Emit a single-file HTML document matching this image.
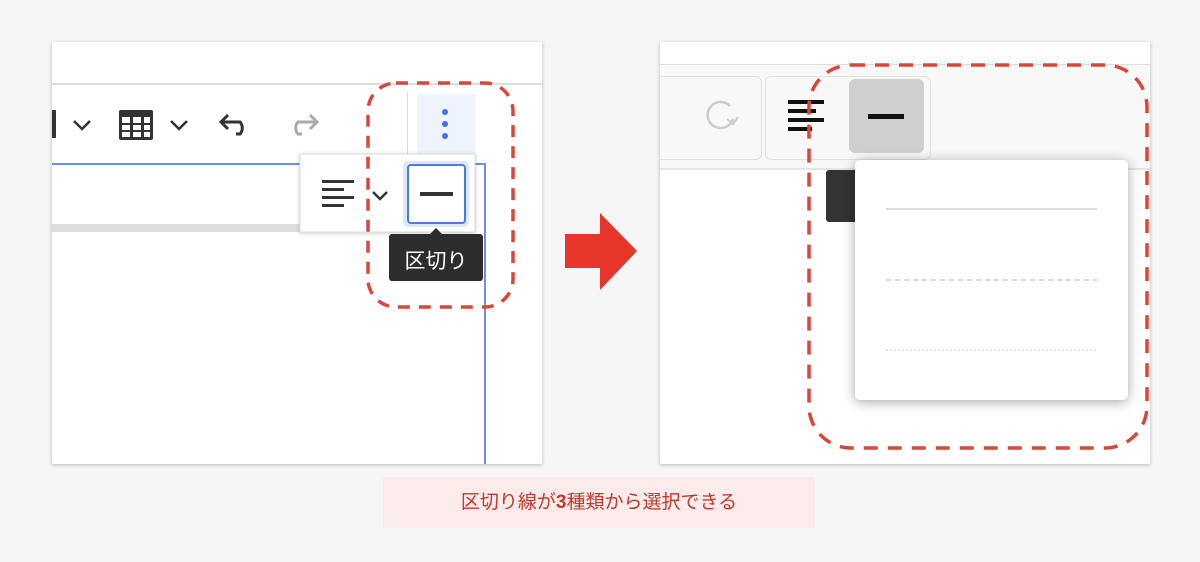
<!DOCTYPE html>
<html><head><meta charset="utf-8"><style>
body{margin:0;width:1200px;height:562px;background:#f6f6f6;position:relative;overflow:hidden;font-family:"Liberation Sans","Noto Sans CJK JP",sans-serif}
.a{position:absolute}
</style></head><body>
<!-- left panel -->
<div class="a" style="left:52px;top:42px;width:490px;height:422px;background:#fff;box-shadow:0 1px 4px rgba(0,0,0,.25);overflow:hidden">
  <div class="a" style="left:0;top:41px;width:490px;height:2px;background:#ddd"></div>
  <div class="a" style="left:0;top:121px;width:434px;height:2px;background:#6d8fe0"></div>
  <div class="a" style="left:432px;top:121px;width:2px;height:310px;background:#6d8fe0"></div>
  <div class="a" style="left:0;top:182px;width:250px;height:8px;background:#ddd"></div>
  <div class="a" style="left:355px;top:50px;width:1px;height:64px;background:#ddd"></div>
  <div class="a" style="left:365px;top:52px;width:58px;height:62px;background:#eef3fc"></div>
</div>
<svg class="a" style="left:0;top:0" width="1200" height="562">
  <!-- left toolbar icons -->
  <rect x="52" y="110" width="4" height="28" fill="#333"/>
  <polyline points="74,121 82,129 90,121" fill="none" stroke="#333" stroke-width="2.5"/>
  <rect x="119" y="110" width="34" height="30" rx="2" fill="#333"/>
  <g fill="#fff"><rect x="122" y="117" width="8" height="6"/><rect x="133" y="117" width="8" height="6"/><rect x="144" y="117" width="6" height="6"/>
  <rect x="122" y="125" width="8" height="5"/><rect x="133" y="125" width="8" height="5"/><rect x="144" y="125" width="6" height="5"/>
  <rect x="122" y="132" width="8" height="5"/><rect x="133" y="132" width="8" height="5"/><rect x="144" y="132" width="6" height="5"/></g>
  <polyline points="171,121 179,129 187,121" fill="none" stroke="#333" stroke-width="2.5"/>
  <path d="M228,115 L221,122 L228,129 M221,122 H240 A9,9 0 0 1 240,134 H236" fill="none" stroke="#333" stroke-width="3"/>
  <path d="M310,115 L317,122 L310,129 M317,122 H298 A9,9 0 0 0 298,134 H302" fill="none" stroke="#aaa" stroke-width="3"/>
  <g fill="#3b74e6"><circle cx="445" cy="112" r="3"/><circle cx="445" cy="124" r="3"/><circle cx="445" cy="136" r="3"/></g>
  <!-- popover -->
  <rect x="300" y="154" width="175" height="78" fill="#fff" stroke="#ddd" filter="drop-shadow(0 1px 2px rgba(0,0,0,.2))"/>
  <g fill="#333"><rect x="322" y="180" width="32" height="3"/><rect x="322" y="188" width="22" height="3"/><rect x="322" y="196" width="32" height="3"/><rect x="322" y="204" width="22" height="3"/></g>
  <polyline points="373,192 380,199 387,192" fill="none" stroke="#333" stroke-width="2.5"/>
  <rect x="403" y="161" width="66" height="66" rx="5" fill="#dde8fb"/>
  <rect x="408" y="165" width="57" height="58" rx="3" fill="#fff" stroke="#4a7be0" stroke-width="2"/>
  <rect x="420" y="192" width="33" height="4" fill="#333"/>
  <path d="M430,234 L436,228 L442,234 Z" fill="#2d2d2d"/>
  <rect x="389" y="234" width="94" height="47" rx="3" fill="#2d2d2d"/>
  <text x="436" y="268" text-anchor="middle" fill="#fff" font-size="21" font-family="Liberation Sans,Noto Sans CJK JP,sans-serif">区切り</text>
  <rect x="368" y="83" width="145" height="224" rx="28" fill="none" stroke="#d9463c" stroke-width="3.5" stroke-dasharray="12 9"/>
  <!-- arrow -->
  <path d="M565,234 H600 V213 L637,251 L600,290 V268 H565 Z" fill="#e8352a"/>
</svg>
<!-- right panel -->
<div class="a" style="left:660px;top:42px;width:490px;height:422px;background:#fff;box-shadow:0 1px 4px rgba(0,0,0,.25);overflow:hidden">
  <div class="a" style="left:0;top:22px;width:490px;height:2px;background:#ddd"></div>
  <div class="a" style="left:0;top:23px;width:490px;height:104px;background:#f8f8f8"></div>
  <div class="a" style="left:-10px;top:34px;width:110px;height:82px;border:1px solid #e0e0e0;border-radius:6px;background:#f8f8f8"></div>
  <div class="a" style="left:105px;top:34px;width:164px;height:82px;border:1px solid #e0e0e0;border-radius:6px;background:#f8f8f8"></div>
  <div class="a" style="left:0;top:126px;width:490px;height:2px;background:#e4e4e4"></div>
  <div class="a" style="left:189px;top:37px;width:75px;height:74px;border-radius:6px;background:#cfcfcf"></div>
  <div class="a" style="left:166px;top:128px;width:40px;height:52px;border-radius:3px;background:#333"></div>
</div>
<svg class="a" style="left:0;top:0" width="1200" height="562">
  <path d="M730,106 A13,13 0 1 0 733,119" fill="none" stroke="#ccc" stroke-width="2.5"/>
  <path d="M727,119 L733,124 L738,117" fill="none" stroke="#ccc" stroke-width="2"/>
  <g fill="#111"><rect x="788" y="100" width="36" height="4"/><rect x="788" y="109" width="28" height="4"/><rect x="788" y="118" width="36" height="4"/><rect x="788" y="127" width="24" height="4"/></g>
  <rect x="868" y="114" width="36" height="5" fill="#111"/>
  <rect x="855" y="160" width="273" height="240" rx="5" fill="#fff" filter="drop-shadow(0 2px 6px rgba(0,0,0,.35))"/>
  <line x1="886" y1="209" x2="1097" y2="209" stroke="#ddd" stroke-width="2"/>
  <line x1="886" y1="280" x2="1097" y2="280" stroke="#ddd" stroke-width="2" stroke-dasharray="5 4"/>
  <line x1="886" y1="350" x2="1097" y2="350" stroke="#e4e4e4" stroke-width="2" stroke-dasharray="2 2"/>
  <rect x="809" y="65" width="338" height="383" rx="42" fill="none" stroke="#d9463c" stroke-width="3.5" stroke-dasharray="14 10"/>
</svg>
<div class="a" style="left:383px;top:477px;width:432px;height:51px;background:#fbeceb;color:#c0392b;font-size:19px;line-height:51px;text-align:center">区切り線が<b>3</b>種類から選択できる</div>
</body></html>
